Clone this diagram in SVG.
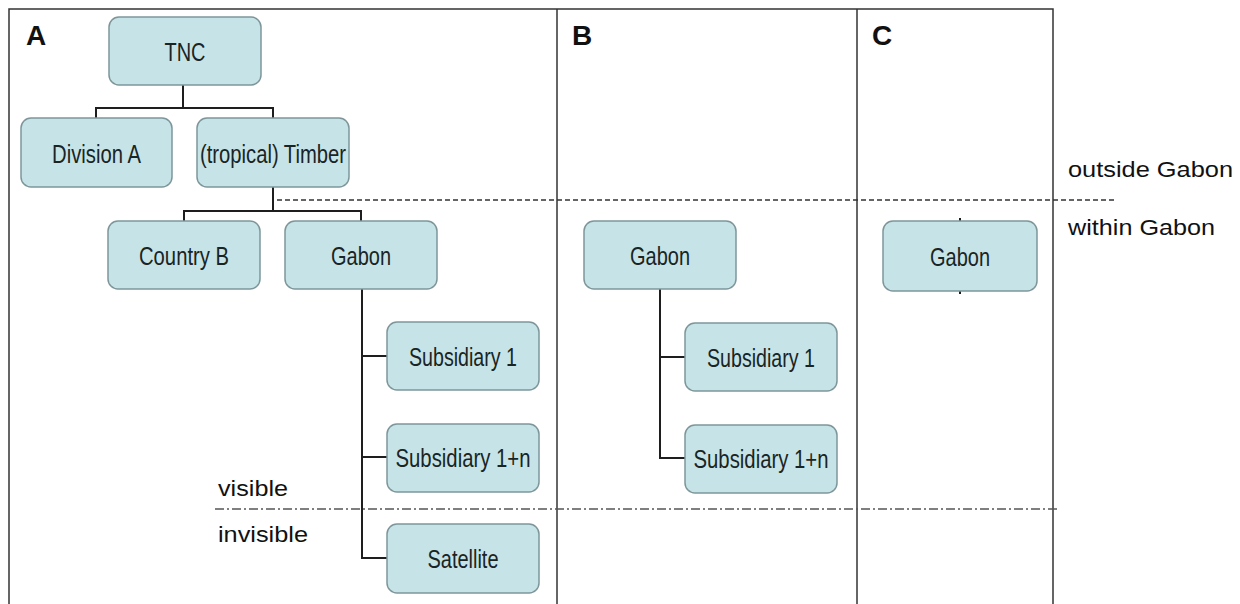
<svg xmlns="http://www.w3.org/2000/svg" width="1240" height="604" viewBox="0 0 1240 604">
  <style>
    .box { fill: #c6e4e8; stroke: #7e969a; stroke-width: 1.5; }
    .lbl { font-family: "Liberation Sans", Arial, sans-serif; font-size: 26px; fill: #1a2424; text-anchor: middle; }
    .side { font-family: "Liberation Sans", Arial, sans-serif; font-size: 22px; fill: #111; }
    .panel { font-family: "Liberation Sans", Arial, sans-serif; font-size: 28px; font-weight: bold; fill: #111; }
    .frame { fill: none; stroke: #333; stroke-width: 1.5; }
    .link { fill: none; stroke: #1e1e1e; stroke-width: 2; }
  </style>
  <rect width="1240" height="604" fill="#ffffff"/>

  <!-- panel frame and dividers -->
  <g id="frame">
    <path class="frame" d="M9 606 V9 H1053 V606"/>
    <path class="frame" d="M557 9 V606"/>
    <path class="frame" d="M857 9 V606"/>
  </g>

  <!-- boundary lines -->
  <g id="boundaries">
    <line x1="277" y1="200" x2="1115" y2="200" stroke="#333" stroke-width="1.3" stroke-dasharray="5 3"/>
    <line x1="215" y1="509" x2="1060" y2="509" stroke="#555" stroke-width="1.3" stroke-dasharray="9 3 2 3"/>
  </g>

  <!-- panel letters and zone labels -->
  <g id="labels">
    <text class="panel" x="26" y="45">A</text>
    <text class="panel" x="572" y="45">B</text>
    <text class="panel" x="872" y="45">C</text>
    <text class="side" x="1068" y="177" textLength="165" lengthAdjust="spacingAndGlyphs">outside Gabon</text>
    <text class="side" x="1068" y="235" textLength="147" lengthAdjust="spacingAndGlyphs">within Gabon</text>
    <text class="side" x="218" y="496" textLength="70" lengthAdjust="spacingAndGlyphs">visible</text>
    <text class="side" x="218" y="542" textLength="90" lengthAdjust="spacingAndGlyphs">invisible</text>
  </g>

  <!-- connectors -->
  <g id="connectors">
    <path class="link" d="M183 85 V108 M96 108 H273 M96 107 V118 M273 107 V118"/>
    <path class="link" d="M273 187 V211 M184 211 H361 M184 210 V221 M361 210 V221"/>
    <path class="link" d="M362 289 V558 M361 356 H387 M361 457 H387 M361 558 H387"/>
    <path class="link" d="M660 289 V458 M659 357 H685 M659 458 H685"/>
    <path class="link" d="M960 218 V221 M960 291 V294" stroke-width="1.5"/>
  </g>

  <!-- panel A -->
  <g id="tnc">
    <rect class="box" x="109" y="17" width="152" height="68" rx="10"/>
    <text class="lbl" x="185" y="61" textLength="41" lengthAdjust="spacingAndGlyphs">TNC</text>
  </g>
  <g id="division-a">
    <rect class="box" x="21" y="118" width="151" height="69" rx="10"/>
    <text class="lbl" x="96.5" y="163" textLength="89" lengthAdjust="spacingAndGlyphs">Division A</text>
  </g>
  <g id="timber">
    <rect class="box" x="197" y="118" width="152" height="69" rx="10"/>
    <text class="lbl" x="273" y="163" textLength="146" lengthAdjust="spacingAndGlyphs">(tropical) Timber</text>
  </g>
  <g id="country-b">
    <rect class="box" x="108" y="221" width="152" height="68" rx="10"/>
    <text class="lbl" x="184" y="265" textLength="90" lengthAdjust="spacingAndGlyphs">Country B</text>
  </g>
  <g id="gabon-a">
    <rect class="box" x="285" y="221" width="152" height="68" rx="10"/>
    <text class="lbl" x="361" y="265" textLength="60" lengthAdjust="spacingAndGlyphs">Gabon</text>
  </g>
  <g id="subsidiary-1-a">
    <rect class="box" x="387" y="322" width="152" height="68" rx="10"/>
    <text class="lbl" x="463" y="366" textLength="108" lengthAdjust="spacingAndGlyphs">Subsidiary 1</text>
  </g>
  <g id="subsidiary-1n-a">
    <rect class="box" x="387" y="424" width="152" height="68" rx="10"/>
    <text class="lbl" x="463" y="467" textLength="135" lengthAdjust="spacingAndGlyphs">Subsidiary 1+n</text>
  </g>
  <g id="satellite">
    <rect class="box" x="387" y="524" width="152" height="69" rx="10"/>
    <text class="lbl" x="463" y="568" textLength="71" lengthAdjust="spacingAndGlyphs">Satellite</text>
  </g>

  <!-- panel B -->
  <g id="gabon-b">
    <rect class="box" x="584" y="221" width="152" height="68" rx="10"/>
    <text class="lbl" x="660" y="265" textLength="60" lengthAdjust="spacingAndGlyphs">Gabon</text>
  </g>
  <g id="subsidiary-1-b">
    <rect class="box" x="685" y="323" width="152" height="68" rx="10"/>
    <text class="lbl" x="761" y="367" textLength="108" lengthAdjust="spacingAndGlyphs">Subsidiary 1</text>
  </g>
  <g id="subsidiary-1n-b">
    <rect class="box" x="685" y="425" width="152" height="68" rx="10"/>
    <text class="lbl" x="761" y="468" textLength="135" lengthAdjust="spacingAndGlyphs">Subsidiary 1+n</text>
  </g>

  <!-- panel C -->
  <g id="gabon-c">
    <rect class="box" x="883" y="221" width="154" height="70" rx="10"/>
    <text class="lbl" x="960" y="266" textLength="60" lengthAdjust="spacingAndGlyphs">Gabon</text>
  </g>
</svg>
